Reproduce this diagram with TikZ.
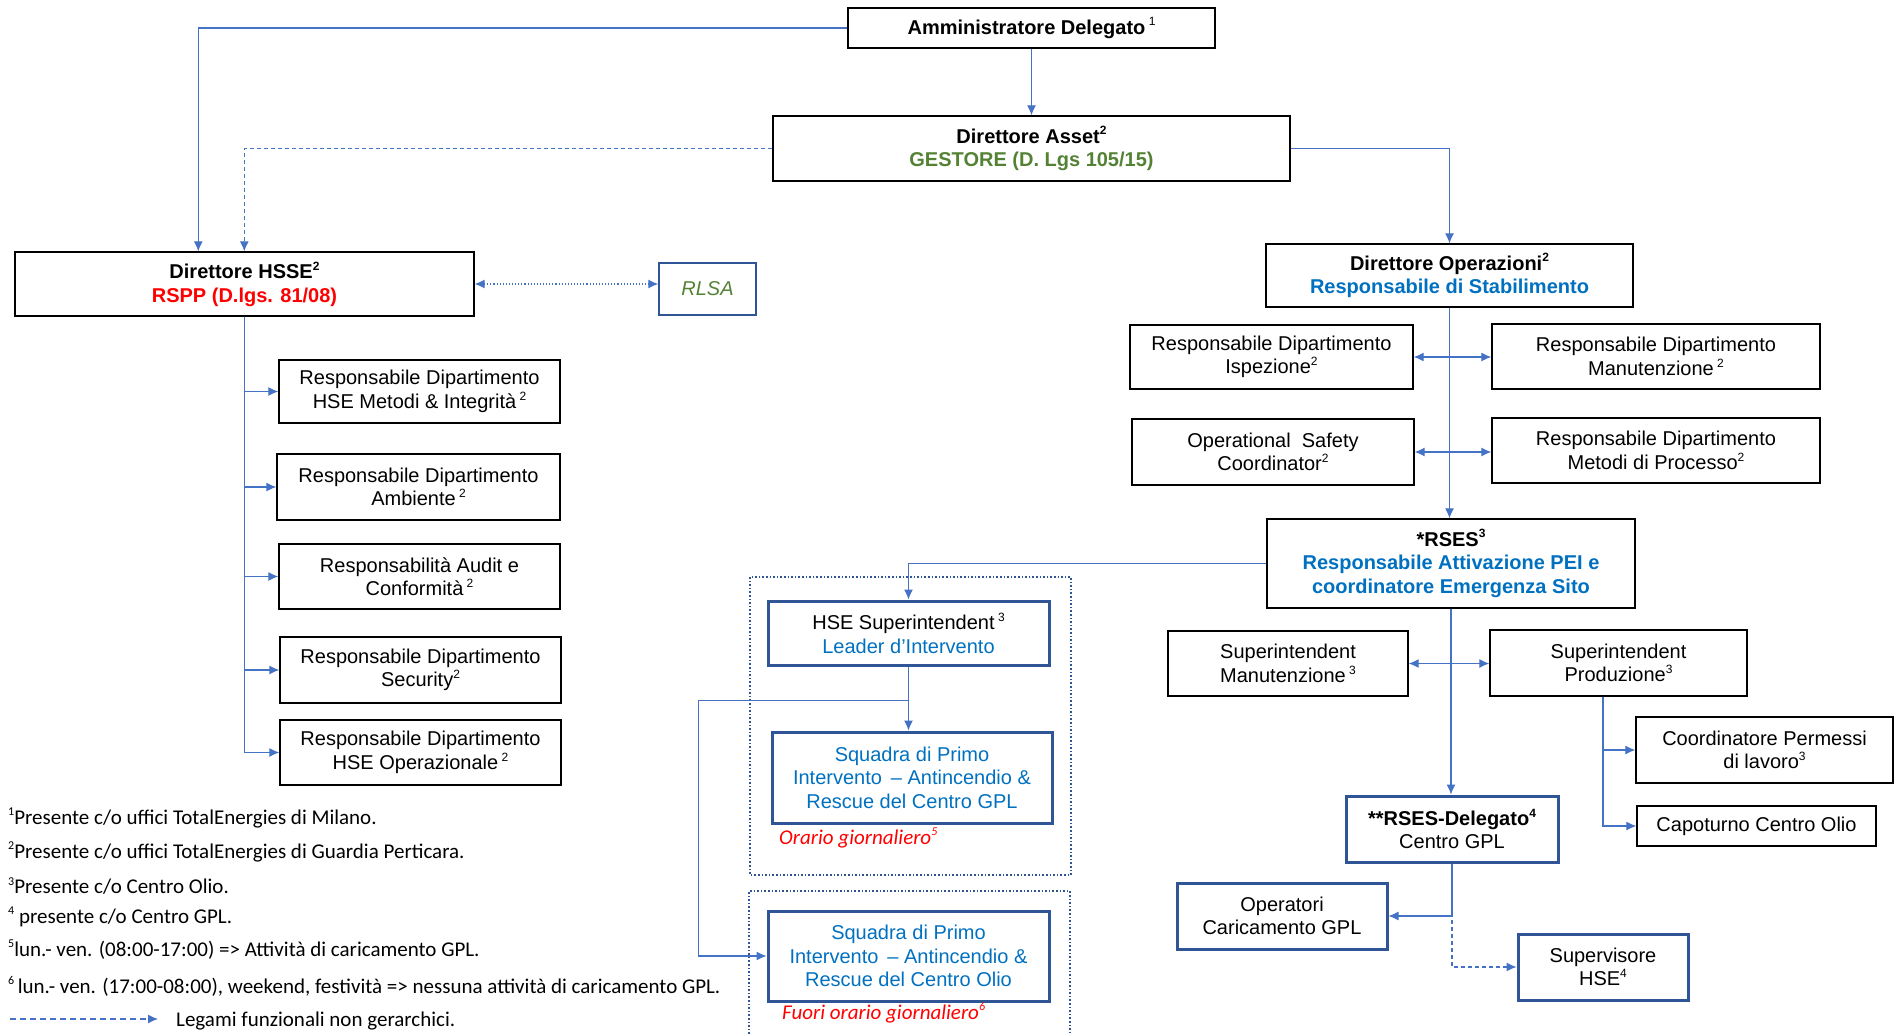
\documentclass[tikz,border=0pt]{standalone}
\usepackage{fontspec}
\setmainfont{Liberation Sans}
\newfontfamily\notefont{Carlito}
\usetikzlibrary{arrows.meta}

\definecolor{lnblue}{HTML}{4472C4}
\definecolor{bxblue}{HTML}{2F5597}
\definecolor{txblue}{HTML}{0070C0}
\definecolor{txgreen}{HTML}{548235}
\definecolor{txred}{HTML}{FF0000}

\newcommand{\upnum}[1]{\raisebox{0.42em}{\fontsize{12}{12}\selectfont #1}}

\begin{document}
\begin{tikzpicture}[
  x=1pt, y=-1pt,
  font=\fontsize{20}{23.5}\selectfont,
  n/.style={draw, line width=1.4pt, align=center, inner sep=0pt},
  nb/.style={n, draw=bxblue, line width=3pt},
  arr/.style={-{Latex[length=10pt,width=9pt]}, draw=lnblue, line width=1.1pt},
  arrs/.style={arr, dash pattern=on 4pt off 3pt},
  both/.style={{Latex[length=10pt,width=9pt]}-{Latex[length=10pt,width=9pt]}, draw=lnblue, line width=1.1pt},
  grp/.style={draw=bxblue, line width=1.6pt, dotted},
  note/.style={anchor=west, inner sep=0pt, font=\notefont\fontsize{21}{24}\selectfont}
]
\useasboundingbox (0,0) rectangle (1900,1034);

% top
\node[n, minimum width=367, minimum height=40] (amm) at (1031.5,28) {\textbf{Amministratore Delegato}\,\upnum{1}};
\node[n, minimum width=517, minimum height=65] (asset) at (1031.5,148.5) {\textbf{Direttore Asset\upnum{2}}\\\textcolor{txgreen}{\textbf{GESTORE (D. Lgs 105/15)}}};
\node[n, minimum width=459, minimum height=64] (hsse) at (244.5,284) {\textbf{Direttore HSSE\upnum{2}}\\\textcolor{txred}{\textbf{RSPP (D.lgs. 81/08)}}};
\node[n, draw=bxblue, line width=1.5pt, minimum width=97, minimum height=52] (rlsa) at (707.5,289) {\textcolor{txgreen}{\itshape RLSA}};
\node[n, minimum width=367, minimum height=63] (dirop) at (1449.5,275.5) {\textbf{Direttore Operazioni\upnum{2}}\\\textcolor{txblue}{\textbf{Responsabile di Stabilimento}}};

% HSSE column
\node[n, minimum width=281, minimum height=63] (hsemet) at (419.5,391.5) {Responsabile Dipartimento\\HSE Metodi \& Integrità\,\upnum{2}};
\node[n, minimum width=283, minimum height=66] (amb) at (418.5,487) {Responsabile Dipartimento\\Ambiente\,\upnum{2}};
\node[n, minimum width=281, minimum height=65] (audit) at (419.5,576.5) {Responsabilità Audit e\\Conformità\,\upnum{2}};
\node[n, minimum width=281, minimum height=66] (secur) at (420.5,670) {Responsabile Dipartimento\\Security\upnum{2}};
\node[n, minimum width=281, minimum height=65] (hseop) at (420.5,752.5) {Responsabile Dipartimento\\HSE Operazionale\,\upnum{2}};

% operations
\node[n, minimum width=283, minimum height=64] (ispez) at (1271.5,357) {Responsabile Dipartimento\\Ispezione\upnum{2}};
\node[n, minimum width=328, minimum height=65] (manut) at (1656,356.5) {Responsabile Dipartimento\\Manutenzione\,\upnum{2}};
\node[n, minimum width=282, minimum height=66] (osc) at (1273,452) {Operational\ \ Safety\\Coordinator\upnum{2}};
\node[n, minimum width=328, minimum height=65] (metodi) at (1656,450.5) {Responsabile Dipartimento\\Metodi di Processo\upnum{2}};
\node[n, minimum width=368, minimum height=89] (rses) at (1451,563.5) {\textbf{*RSES\upnum{3}}\\\textcolor{txblue}{\textbf{Responsabile Attivazione PEI e}}\\\textcolor{txblue}{\textbf{coordinatore Emergenza Sito}}};
\node[n, minimum width=240, minimum height=65] (supman) at (1288,663.5) {Superintendent\\Manutenzione\,\upnum{3}};
\node[n, minimum width=257, minimum height=66] (supprod) at (1618.5,663) {Superintendent\\Produzione\upnum{3}};
\node[n, minimum width=257, minimum height=66] (coord) at (1764.5,750) {Coordinatore Permessi\\di lavoro\upnum{3}};
\node[n, minimum width=239, minimum height=40] (capo) at (1756.5,826) {Capoturno Centro Olio};
\node[nb, minimum width=212, minimum height=66] (deleg) at (1452,829) {\textbf{**RSES-Delegato\upnum{4}}\\Centro GPL};
\node[nb, minimum width=210, minimum height=66] (oper) at (1282,916) {Operatori\\Caricamento GPL};
\node[nb, minimum width=170, minimum height=66] (superv) at (1603,967) {Supervisore\\HSE\upnum{4}};

% emergency teams
\draw[grp] (750,577) rectangle (1071,875);
\draw[grp] (749,1034) |- (1070,891) -- (1070,1034);
\node[nb, minimum width=281, minimum height=64] (hsesup) at (908.5,633) {HSE Superintendent\,\upnum{3}\\\textcolor{txblue}{Leader d’Intervento}};
\node[nb, minimum width=280, minimum height=91] (sqgpl) at (912,777.5) {\color{txblue}Squadra di Primo\\\color{txblue}Intervento \,-- Antincendio \&\\\color{txblue}Rescue del Centro GPL};
\node[nb, minimum width=281, minimum height=90] (sqolio) at (908.5,956) {\color{txblue}Squadra di Primo\\\color{txblue}Intervento \,-- Antincendio \&\\\color{txblue}Rescue del Centro Olio};
\node[note, text=txred] (lbgpl) at (779,838) {\itshape Orario giornaliero\upnum{5}};
\node[note, text=txred] (lbolio) at (782,1013) {\itshape Fuori orario giornaliero\upnum{6}};

% links
\draw[arr] (amm.west) -| ([xshift=184pt]hsse.north west);
\draw[arr] (amm) -- (asset);
\draw[arrs] (asset.west) -| ([xshift=230pt]hsse.north west);
\draw[arr] (asset.east) -| (dirop.north);
\draw[both, dotted] (hsse.east) -- (hsse.east -| rlsa.west);
\foreach \b in {hsemet,amb,audit,secur,hseop}
  \draw[arr] (hsse.south) |- (\b.west);
\draw[arr] (dirop.south) -- (dirop.south |- rses.north);
\draw[both] (ispez.east) -- (ispez.east -| manut.west);
\draw[both] (osc.east) -- (osc.east -| metodi.west);
\draw[arr] (rses.south) -- (rses.south |- deleg.north);
\draw[both] (supman.east) -- (supman.east -| supprod.west);
\draw[arr] ([xshift=-15.5pt]supprod.south) |- (coord.west);
\draw[arr] ([xshift=-15.5pt]supprod.south) |- (capo.west);
\draw[arr] (deleg.south) |- (oper.east);
\draw[arrs] (deleg.south) |- (superv.west);
\draw[arr] (rses.west) -| (hsesup.north);
\draw[arr] (hsesup.south) -- (hsesup.south |- sqgpl.north);
\coordinate (jt) at ([yshift=-34pt]hsesup.south);
\draw[arr] (jt) -- ++(-210,0) |- (sqolio.west);

% notes
\node[note] (f1) at (8,818) {\upnum{1}Presente c/o uffici TotalEnergies di Milano.};
\node[note] (f2) at (8,852) {\upnum{2}Presente c/o uffici TotalEnergies di Guardia Perticara.};
\node[note] (f3) at (8,886) {\upnum{3}Presente c/o Centro Olio.};
\node[note] (f4) at (8,917) {\upnum{4} presente c/o Centro GPL.};
\node[note] (f5) at (8,950) {\upnum{5}lun.- ven. (08:00-17:00) => Attività di caricamento GPL.};
\node[note] (f6) at (8,986) {\upnum{6}\,lun.- ven. (17:00-08:00), weekend, festività => nessuna attività di caricamento GPL.};
\coordinate (lg0) at (10,1019);
\coordinate (lg1) at (158,1019);
\draw[arr, dash pattern=on 6pt off 4pt] (lg0) -- (lg1);
\node[note] (lgtxt) at (176,1021) {Legami funzionali non gerarchici.};
\end{tikzpicture}
\end{document}
